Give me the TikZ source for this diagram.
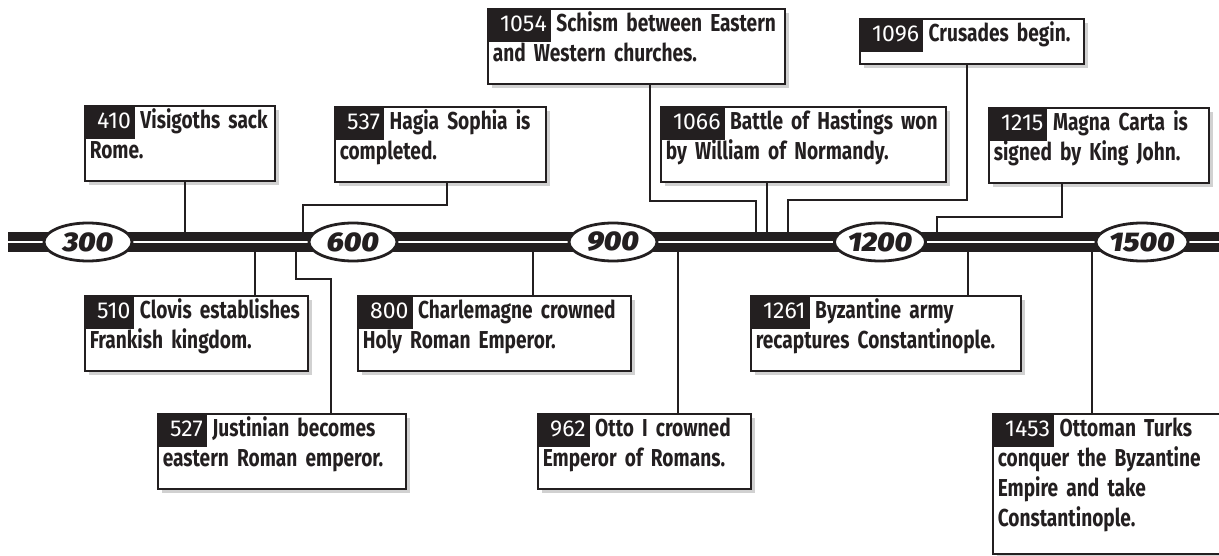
\documentclass[tikz,border=0pt]{standalone}
\usepackage{fontspec}
\usetikzlibrary{shapes.geometric,shadows}
\newfontfamily\evff[FakeStretch=0.78]{Fira Sans}
\newfontfamily\tgff{Fira Sans}
\newfontfamily\yrff[FakeStretch=1.1, BoldItalicFont={Fira Sans Black Italic}]{Fira Sans}
\definecolor{ink}{HTML}{231F20}
\newcommand\evfont{\evff\bfseries\fontsize{24.5}{30}\selectfont}
\newcommand\tagfont{\tgff\mdseries\fontsize{23}{30}\selectfont}
\newcommand\tagsp[1]{\hspace*{8pt}\phantom{{\tagfont #1}}\hspace{9pt}}
\newcommand\bdepth{\rule[-20pt]{0pt}{1pt}}
\newcommand\evline[1]{\mbox{\strut #1}}
\tikzset{
  evbox/.style={draw=ink, line width=1.6pt, fill=white, anchor=north west,
    inner xsep=5pt, inner ysep=2pt, align=left, font=\evfont, text=ink,
    general shadow={fill=black!18, shadow xshift=4pt, shadow yshift=-4pt}},
  yeartag/.style={fill=ink, text=white, anchor=north west, inner xsep=4pt,
    inner ysep=2pt, font=\tagfont},
  era/.style={ellipse, draw=ink, line width=2.8pt, fill=white, minimum width=88pt,
    minimum height=38pt, inner sep=0pt, font=\yrff\bfseries\itshape\fontsize{27}{27}\selectfont, text=ink},
  link/.style={draw=ink, line width=1.6pt},
}
\begin{document}
\begin{tikzpicture}[x=1pt,y=-1pt]
\useasboundingbox (0,0) rectangle (1219,556);
\clip (0,0) rectangle (1219,556);
% timeline bar
\node[fill=ink, minimum width=1211pt, minimum height=20pt, inner sep=0pt, anchor=north west] (bar) at (8,232) {};
\draw[white, line width=2.6pt] (bar.west) -- (bar.east);
% era ellipses
\node[era] (e300) at (88,242) {300};
\node[era] (e600) at (353,242) {600};
\node[era] (e900) at (613,242) {900};
\node[era] (e1200) at (880,242) {1200};
\node[era] (e1500) at (1142,242) {1500};
% connector corners
\coordinate (k537a) at (447,205);
\coordinate (k537b) at (303,205);
\coordinate (k1054a) at (650,201);
\coordinate (k1054b) at (756,201);
\coordinate (k1096a) at (967,200);
\coordinate (k1096b) at (788,200);
\coordinate (k1215a) at (1062,217);
\coordinate (k1215b) at (937,217);
\coordinate (k527a) at (296,279);
\coordinate (k527b) at (331,279);
% top boxes
\node[evbox, text width=180pt] (b410) at (84,105) {\evline{\tagsp{410}Visigoths sack}\\\evline{Rome.}\bdepth};
\node[evbox, text width=201pt] (b537) at (334,106) {\evline{\tagsp{537}Hagia Sophia is}\\\evline{completed.}\bdepth};
\node[evbox, text width=287pt] (b1054) at (487,8) {\evline{\tagsp{1054}Schism between Eastern}\\\evline{and Western churches.}\bdepth};
\node[evbox, text width=275pt] (b1066) at (660,106) {\evline{\tagsp{1066}Battle of Hastings won}\\\evline{by William of Normandy.}\bdepth};
\node[evbox, text width=214pt] (b1096) at (859,18) {\evline{\tagsp{1096}Crusades begin.}\bdepth};
\node[evbox, text width=210pt] (b1215) at (988,107) {\evline{\tagsp{1215}Magna Carta is}\\\evline{signed by King John.}\bdepth};
% bottom boxes
\node[evbox, text width=213pt] (b510) at (84,295) {\evline{\tagsp{510}Clovis establishes}\\\evline{Frankish kingdom.}\bdepth};
\node[evbox, text width=238pt] (b527) at (157,413) {\evline{\tagsp{527}Justinian becomes}\\\evline{eastern Roman emperor.}\bdepth};
\node[evbox, text width=263pt] (b800) at (357,295) {\evline{\tagsp{800}Charlemagne crowned}\\\evline{Holy Roman Emperor.}\bdepth};
\node[evbox, text width=203pt] (b962) at (537,413) {\evline{\tagsp{962}Otto I crowned}\\\evline{Emperor of Romans.}\bdepth};
\node[evbox, text width=260pt] (b1261) at (750,295) {\evline{\tagsp{1261}Byzantine army}\\\evline{recaptures Constantinople.}\bdepth};
\node[evbox, text width=236pt] (b1453) at (992,413) {\evline{\tagsp{1453}Ottoman Turks}\\\evline{conquer the Byzantine}\\\evline{Empire and take}\\\evline{Constantinople.}\rule[-25pt]{0pt}{1pt}};
% year tags
\foreach \b/\y in {b410/410,b537/537,b1054/1054,b1066/1066,b1096/1096,b1215/1215,b510/510,b527/527,b800/800,b962/962,b1261/1261,b1453/1453}
  \node[yeartag] (t\b) at (\b.north west) {\strut\hspace*{9pt}\y};
% connectors
\draw[link] (b410.south -| 185,0) -- (bar.north -| 185,0);
\draw[link] (b537.south -| k537a) -- (k537a) -- (k537b) -- (bar.north -| k537b);
\draw[link] (b1054.south -| k1054a) -- (k1054a) -- (k1054b) -- (bar.north -| k1054b);
\draw[link] (b1066.south -| 767,0) -- (bar.north -| 767,0);
\draw[link] (b1096.south -| k1096a) -- (k1096a) -- (k1096b) -- (bar.north -| k1096b);
\draw[link] (b1215.south -| k1215a) -- (k1215a) -- (k1215b) -- (bar.north -| k1215b);
\draw[link] (bar.south -| 255,0) -- (b510.north -| 255,0);
\draw[link] (bar.south -| k527a) -- (k527a) -- (k527b) -- (b527.north -| k527b);
\draw[link] (bar.south -| 533,0) -- (b800.north -| 533,0);
\draw[link] (bar.south -| 678,0) -- (b962.north -| 678,0);
\draw[link] (bar.south -| 968,0) -- (b1261.north -| 968,0);
\draw[link] (bar.south -| 1092,0) -- (b1453.north -| 1092,0);
\end{tikzpicture}
\end{document}
